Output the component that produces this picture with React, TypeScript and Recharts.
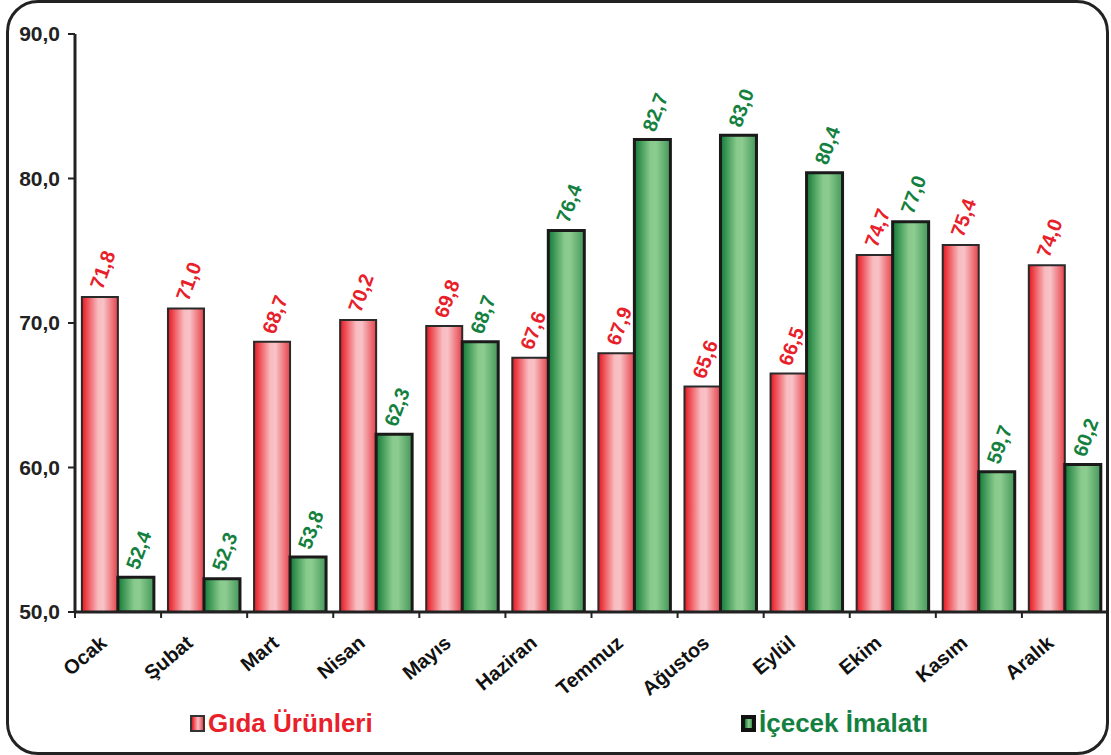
import React from "react";
import { BarChart, Bar, XAxis, YAxis, LabelList, Legend } from "recharts";

// Monthly capacity utilisation (%) – food products vs. beverage manufacturing
const months = ["Ocak", "Şubat", "Mart", "Nisan", "Mayıs", "Haziran", "Temmuz", "Ağustos", "Eylül", "Ekim", "Kasım", "Aralık"];
const gidaValues = [71.8, 71.0, 68.7, 70.2, 69.8, 67.6, 67.9, 65.6, 66.5, 74.7, 75.4, 74.0];
const icecekValues = [52.4, 52.3, 53.8, 62.3, 68.7, 76.4, 82.7, 83.0, 80.4, 77.0, 59.7, 60.2];
const yTicks = [50, 60, 70, 80, 90];

const data = months.map((month, i) => ({
  month,
  gida: gidaValues[i],
  icecek: icecekValues[i],
}));

const FONT = '"Liberation Sans", Arial, Helvetica, sans-serif';
const RED = "#e8202a";
const GREEN = "#148040";
const INK = "#222";

const fmt = (v: number) => v.toFixed(1).replace(".", ",");

const makeValueLabel = (color: string) => (props: any) => {
  const { x, y, width, value } = props;
  const lx = x + width / 2 - 4;
  const ly = y - 9;
  return (
    <text
      x={lx}
      y={ly}
      dy="0.35em"
      transform={`rotate(-70 ${lx} ${ly})`}
      textAnchor="start"
      fill={color}
      fontFamily={FONT}
      fontWeight="bold"
      fontSize={20}
    >
      {fmt(value)}
    </text>
  );
};

const MonthTick = (props: any) => {
  const { x, y, payload, index } = props;
  const half = payload && payload.offset ? payload.offset : 43;
  const tx = x - 10;
  const ty = y + 33;
  return (
    <g>
      <line x1={x - half} x2={x - half} y1={y} y2={y + 6} stroke={INK} strokeWidth={2} />
      {index === months.length - 1 && (
        <line x1={x + half} x2={x + half} y1={y} y2={y + 6} stroke={INK} strokeWidth={2} />
      )}
      <text
        x={tx}
        y={ty}
        transform={`rotate(-40 ${tx} ${ty})`}
        textAnchor="end"
        fill="#111"
        fontFamily={FONT}
        fontWeight="bold"
        fontSize={20}
      >
        {payload.value}
      </text>
    </g>
  );
};

const legendLeft = [190, 741];

const LegendContent = (props: any) => {
  const { payload = [] } = props;
  return (
    <div style={{ position: "relative", width: 1111, height: 30 }}>
      {payload.map((item: any, i: number) => {
        const isGida = item.dataKey === "gida";
        return (
          <div
            key={item.value}
            style={{
              position: "absolute",
              left: legendLeft[i],
              top: 0,
              display: "flex",
              alignItems: "center",
              fontFamily: FONT,
              fontWeight: "bold",
              fontSize: 26,
              lineHeight: "30px",
              color: isGida ? RED : GREEN,
            }}
          >
            <span
              style={{
                display: "inline-block",
                boxSizing: "border-box",
                width: 15,
                height: 17,
                marginRight: 3,
                border: isGida ? "2px solid #333" : "4px solid #111",
                background: isGida
                  ? "linear-gradient(90deg, #e8161f, #f8c0c4 55%, #e8454c)"
                  : "linear-gradient(90deg, #137a37, #8ccc8f 55%, #3f9452)",
              }}
            />
            {item.value}
          </div>
        );
      })}
    </div>
  );
};

export default function App() {
  return (
    <div style={{ position: "absolute", left: 0, top: 0, width: 1111, height: 755, background: "#fff" }}>
      <div
        style={{
          position: "absolute",
          left: 6,
          top: 0,
          width: 1103,
          height: 755,
          boxSizing: "border-box",
          border: `3px solid ${INK}`,
          borderRadius: 32,
        }}
      />
      <div style={{ position: "absolute", left: 0, top: 0 }}>
        <BarChart
          width={1111}
          height={755}
          data={data}
          margin={{ top: 34, right: 3, left: 0, bottom: 17 }}
          barCategoryGap="8%"
          barGap={0}
        >
          <defs>
            <linearGradient id="gidaFill" x1="0" y1="0" x2="1" y2="0">
              <stop offset="0%" stopColor="#e8161f" />
              <stop offset="45%" stopColor="#f8bcc0" />
              <stop offset="60%" stopColor="#f8c2c6" />
              <stop offset="100%" stopColor="#e6424a" />
            </linearGradient>
            <linearGradient id="icecekFill" x1="0" y1="0" x2="1" y2="0">
              <stop offset="0%" stopColor="#137a37" />
              <stop offset="45%" stopColor="#88ca8c" />
              <stop offset="60%" stopColor="#8dcc90" />
              <stop offset="100%" stopColor="#44985a" />
            </linearGradient>
          </defs>
          <XAxis
            dataKey="month"
            interval={0}
            height={96}
            tickSize={0}
            tickMargin={0}
            tickLine={false}
            axisLine={{ stroke: INK, strokeWidth: 3 }}
            tick={<MonthTick />}
          />
          <YAxis
            width={75}
            domain={[50, 90]}
            ticks={yTicks}
            allowDataOverflow
            tickFormatter={fmt}
            tickSize={7}
            tickMargin={8}
            axisLine={{ stroke: INK, strokeWidth: 3 }}
            tickLine={{ stroke: INK, strokeWidth: 2 }}
            tick={{ fill: INK, fontFamily: FONT, fontWeight: "bold", fontSize: 21 }}
          />
          <Legend verticalAlign="bottom" height={30} wrapperStyle={{ left: 0, width: 1111 }} content={<LegendContent />} />
          <Bar
            dataKey="gida"
            name="Gıda Ürünleri"
            fill="url(#gidaFill)"
            stroke="#2a2a2a"
            strokeWidth={2}
            isAnimationActive={false}
          >
            <LabelList dataKey="gida" content={makeValueLabel(RED)} />
          </Bar>
          <Bar
            dataKey="icecek"
            name="İçecek İmalatı"
            fill="url(#icecekFill)"
            stroke="#1a1a1a"
            strokeWidth={3}
            isAnimationActive={false}
          >
            <LabelList dataKey="icecek" content={makeValueLabel(GREEN)} />
          </Bar>
        </BarChart>
      </div>
    </div>
  );
}
